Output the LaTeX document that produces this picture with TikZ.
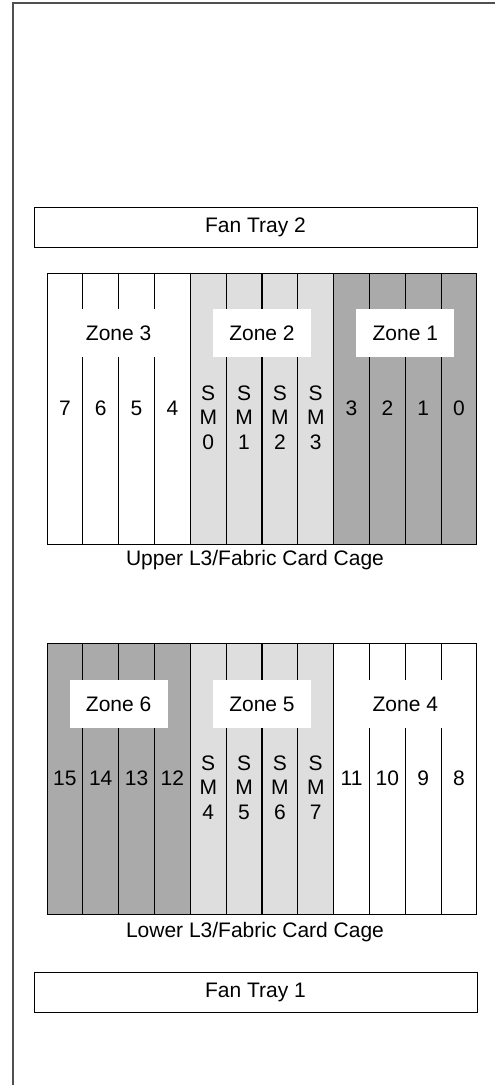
\documentclass[tikz,border=0pt]{standalone}
\usepackage{fontspec}
\setmainfont{Liberation Sans}
\usepackage{tikz}
\usepackage{xcolor}
\usetikzlibrary{positioning, calc}
\definecolor{smgray}{RGB}{222, 222, 222}
\definecolor{lcgray}{RGB}{170, 170, 170}
\definecolor{framegray}{RGB}{80, 80, 80}

\begin{document}
\begin{tikzpicture}[x=1pt, y=-1pt,
    every node/.style={font=\fontsize{21}{24.5}\selectfont},
    slot/.style={draw, line width=1pt, minimum width=35.83pt,
          minimum height=271pt, inner sep=0pt, outer sep=0pt},
    zonebox/.style={fill=white, minimum width=98pt, minimum height=48pt,
          inner sep=0pt},
    tray/.style={draw, line width=1pt, minimum width=443pt,
          minimum height=40pt, inner sep=0pt}]
    \useasboundingbox (0,0) rectangle (495,1085);
    \draw[framegray, line width=1.4pt] (13,1085) -- (13,3) -- (495,3);

    \node[tray] (ft2) at (255.5,227) {Fan Tray 2};

    % upper cage
    \foreach \i/\c in {0/white,1/white,2/white,3/white,4/smgray,5/smgray,
          6/smgray,7/smgray,8/lcgray,9/lcgray,10/lcgray,11/lcgray}
      \node[slot, fill=\c] (u\i) at ({47+35.833*(\i+0.5)},408.5) {};
    \node[zonebox] (uz3) at ([yshift=75.5pt]u1.east) {Zone 3};
    \node[zonebox] (uz2) at ([yshift=75.5pt]u5.east) {Zone 2};
    \node[zonebox] (uz1) at ([yshift=75.5pt]u9.east) {Zone 1};
    \foreach \i/\t in {0/7,1/6,2/5,3/4,8/3,9/2,10/1,11/0}
      \node (un\i) at (u\i) {\t};
    \foreach \i/\t in {4/0,5/1,6/2,7/3}
      \node[align=center, inner sep=0pt] (us\i) at ([yshift=-9pt]u\i.center) {S\\M\\\t};
    \node (ucap) at (255,560) {Upper L3/Fabric Card Cage};

    % lower cage
    \foreach \i/\c in {0/lcgray,1/lcgray,2/lcgray,3/lcgray,4/smgray,5/smgray,
          6/smgray,7/smgray,8/white,9/white,10/white,11/white}
      \node[slot, fill=\c] (l\i) at ({47+35.833*(\i+0.5)},778.5) {};
    \node[zonebox] (lz6) at ([yshift=74.5pt]l1.east) {Zone 6};
    \node[zonebox] (lz5) at ([yshift=74.5pt]l5.east) {Zone 5};
    \node[zonebox] (lz4) at ([yshift=74.5pt]l9.east) {Zone 4};
    \foreach \i/\t in {0/15,1/14,2/13,3/12,8/11,9/10,10/9,11/8}
      \node (ln\i) at (l\i) {\t};
    \foreach \i/\t in {4/4,5/5,6/6,7/7}
      \node[align=center, inner sep=0pt] (ls\i) at ([yshift=-9pt]l\i.center) {S\\M\\\t};
    \node (lcap) at (255,932) {Lower L3/Fabric Card Cage};

    \node[tray] (ft1) at (255.5,992.5) {Fan Tray 1};
  \end{tikzpicture}
\end{document}
